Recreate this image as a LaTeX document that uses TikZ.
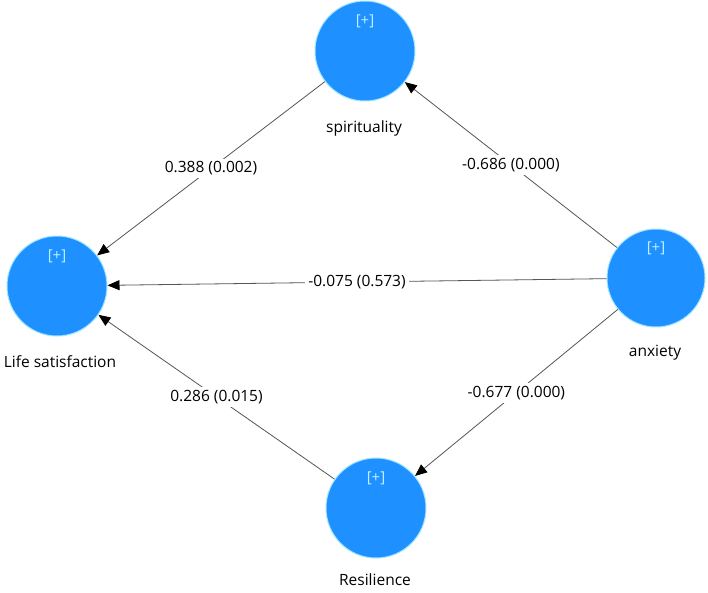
\documentclass[tikz,border=0pt]{standalone}
\usepackage{fontspec}
\setmainfont{Open Sans}
\usetikzlibrary{arrows.meta}
\definecolor{lvblue}{RGB}{30,144,255}
\definecolor{lvedge}{RGB}{160,230,255}
\definecolor{plus}{RGB}{190,240,255}
\definecolor{lineg}{RGB}{85,85,85}
\begin{document}
\begin{tikzpicture}[x=1pt,y=-1pt,
  latent/.style={circle,fill=lvblue,draw=lvedge,line width=1pt,minimum size=100pt,inner sep=0pt},
  plustxt/.style={font=\fontsize{15}{17}\selectfont,text=plus},
  nlabel/.style={font=\fontsize{15.5}{18}\selectfont,text=black},
  path/.style={draw=lineg,line width=0.8pt,-{Triangle[length=12pt,width=10pt,fill=black,color=black]}},
  coef/.style={fill=white,inner sep=3pt,font=\fontsize{15.5}{18}\selectfont,text=black}]
\useasboundingbox (0,0) rectangle (708,592);
\fill[white] (0,0) rectangle (708,592);
\node[latent] (sp) at (365,51) {};
\node[latent] (ls) at (57,286) {};
\node[latent,minimum size=98pt] (ax) at (656,278) {};
\node[latent] (re) at (376,508) {};
\node[plustxt] (psp) at (365,21) {[+]};
\node[plustxt] (pls) at (57,256) {[+]};
\node[plustxt] (pax) at (656,248) {[+]};
\node[plustxt] (pre) at (376,478) {[+]};
\node[nlabel] (tsp) at (364,128) {spirituality};
\node[nlabel] (tls) at (60,362) {Life satisfaction};
\node[nlabel] (tax) at (655,353) {anxiety};
\node[nlabel] (tre) at (375,580) {Resilience};
\draw[path] (sp) -- node[coef] (c1) {0.388 (0.002)} (ls);
\draw[path] (ax) -- node[coef] (c2) {-0.686 (0.000)} (sp);
\draw[path] (ax) -- node[coef] (c3) {-0.075 (0.573)} (ls);
\draw[path] (ax) -- node[coef] (c4) {-0.677 (0.000)} (re);
\draw[path] (re) -- node[coef] (c5) {0.286 (0.015)} (ls);
\end{tikzpicture}
\end{document}
